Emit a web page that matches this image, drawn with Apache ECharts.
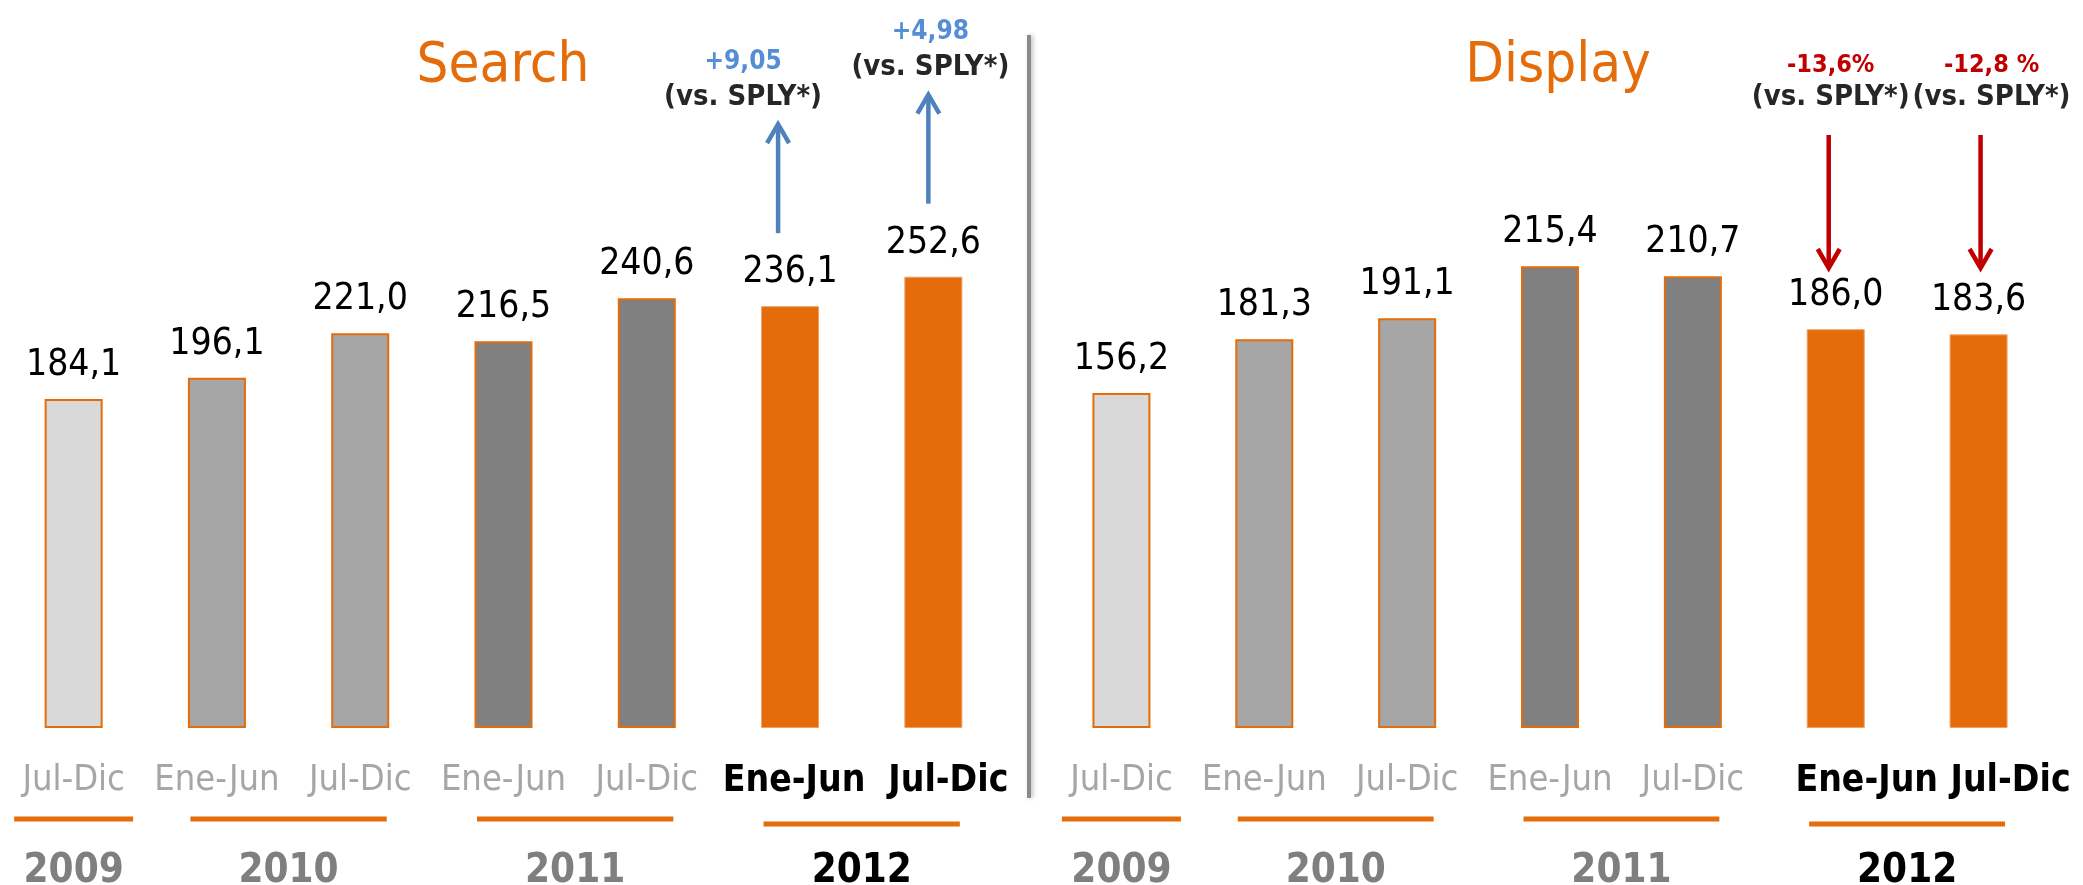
<!DOCTYPE html>
<html>
<head>
<meta charset="utf-8">
<script src="https://cdn.jsdelivr.net/npm/echarts@6/dist/echarts.min.js"></script>
<style>
  html, body { margin: 0; padding: 0; background: #fff; }
  #chart { width: 2083px; height: 885px; }
</style>
</head>
<body>
<div id="chart"></div>
<script>
// datos
var periods = ['Jul-Dic', 'Ene-Jun', 'Jul-Dic', 'Ene-Jun', 'Jul-Dic', 'Ene-Jun', 'Jul-Dic'];
var searchValues = [184.1, 196.1, 221.0, 216.5, 240.6, 236.1, 252.6];
var displayValues = [156.2, 181.3, 191.1, 215.4, 210.7, 186.0, 183.6];
var years = ['2009', '2010', '2011', '2012'];
var yearFirst = [0, 1, 3, 5];
var yearLast = [0, 2, 4, 6];
var searchDeltas = ['+9,05', '+4,98'];
var displayDeltas = ['-13,6%', '-12,8 %'];
var deltaNote = '(vs. SPLY*)';

var FONT = '"DejaVu Sans Condensed", "Liberation Sans Narrow", sans-serif';
var ORANGE = '#E46C0A';
var barColors = ['#D9D9D9', '#A6A6A6', '#A6A6A6', '#808080', '#808080', ORANGE, ORANGE];

function barData(values) {
    return values.map(function (v, i) {
        return {
            value: v,
            itemStyle: {
                color: barColors[i],
                borderColor: i < 5 ? ORANGE : '#F0A060',
                borderWidth: i < 5 ? 2 : 1
            }
        };
    });
}

// padLeft: desplaza las etiquetas en negrita (2012) un poco a la derecha
function xAxisFor(idx, padLeft) {
    var bold = { color: '#000', fontSize: 37, fontWeight: 'bold', fontFamily: FONT };
    return {
        type: 'category',
        gridIndex: idx,
        data: periods,
        axisLine: { show: false },
        axisTick: { show: false },
        axisLabel: {
            interval: 0,
            margin: 35,
            formatter: function (v, i) {
                if (i === 5) return '{b5|' + v + '}';
                if (i === 6) return '{b6|' + v + '}';
                return '{g|' + v + '}';
            },
            rich: {
                g: { color: '#A6A6A6', fontSize: 36, fontFamily: FONT },
                b5: Object.assign({ padding: [0, 0, 0, padLeft[0]] }, bold),
                b6: Object.assign({ padding: [0, 0, 0, padLeft[1]] }, bold)
            }
        }
    };
}

function yAxisFor(idx, max) {
    return { type: 'value', gridIndex: idx, min: 0, max: max, show: false, splitLine: { show: false } };
}

function barSeries(idx, values) {
    return {
        type: 'bar',
        xAxisIndex: idx,
        yAxisIndex: idx,
        barWidth: 58,
        data: barData(values),
        label: {
            show: true,
            position: 'top',
            distance: 15,
            color: '#000',
            fontSize: 37,
            fontFamily: FONT,
            formatter: function (p) { return p.value.toFixed(1).replace('.', ','); }
        }
    };
}

// lineas naranjas y años bajo las etiquetas
function yearSeries(idx) {
    return {
        type: 'custom',
        xAxisIndex: idx,
        yAxisIndex: idx,
        silent: true,
        data: years.map(function (y, i) { return [yearFirst[i], yearLast[i], i]; }),
        renderItem: function (params, api) {
            var a = api.coord([api.value(0), 0]);
            var b = api.coord([api.value(1), 0]);
            var i = api.value(2);
            var span = b[0] - a[0];
            var w = span > 0 ? span + 53 : 119;
            var cx = (a[0] + b[0]) / 2;
            var last = i === years.length - 1;
            var ly = last ? 824 : 819;
            return {
                type: 'group',
                children: [{
                    type: 'rect',
                    shape: { x: cx - w / 2, y: ly - 2.5, width: w, height: 5 },
                    style: { fill: ORANGE }
                }, {
                    type: 'text',
                    style: {
                        text: years[i],
                        x: cx,
                        y: 872,
                        align: 'center',
                        verticalAlign: 'middle',
                        fill: last ? '#000' : '#7F7F7F',
                        fontSize: 40,
                        fontWeight: 'bold',
                        fontFamily: FONT
                    }
                }]
            };
        }
    };
}

var myChart = echarts.init(document.getElementById('chart'));
var option = {
    animation: false,
    title: [
        { text: 'Search', left: 503, top: 38, textAlign: 'center', padding: 0,
          textStyle: { color: ORANGE, fontSize: 56, fontWeight: 'normal', fontFamily: FONT } },
        { text: 'Display', left: 1558, top: 38, textAlign: 'center', padding: 0,
          textStyle: { color: ORANGE, fontSize: 56, fontWeight: 'normal', fontFamily: FONT } }
    ],
    grid: [
        { left: 2, width: 1003, top: 192, height: 536 },
        { left: 1050, width: 1000, top: 192, height: 536 }
    ],
    xAxis: [xAxisFor(0, [8, 30]), xAxisFor(1, [62, 64])],
    yAxis: [yAxisFor(0, 300), yAxisFor(1, 250)],
    series: [barSeries(0, searchValues), barSeries(1, displayValues), yearSeries(0), yearSeries(1)]
};
myChart.setOption(option);

// anotaciones (flechas y variaciones)
function arrow(x, y1, y2, color) {
    var dir = y2 < y1 ? 1 : -1;
    return [{
        type: 'line',
        shape: { x1: x, y1: y1, x2: x, y2: y2 + dir * 2 },
        style: { stroke: color, lineWidth: 4.5 }
    }, {
        type: 'polyline',
        shape: { points: [[x - 11, y2 + dir * 19], [x, y2], [x + 11, y2 + dir * 19]] },
        style: { stroke: color, lineWidth: 4.5, fill: null }
    }];
}
function note(x, y, text, color, size) {
    return {
        type: 'text',
        style: {
            text: text, x: x, y: y, align: 'center', verticalAlign: 'middle',
            fill: color, fontSize: size, fontWeight: 'bold', fontFamily: FONT
        }
    };
}

var els = [];
// separador
els.push({
    type: 'line',
    shape: { x1: 1029, y1: 35, x2: 1029, y2: 798 },
    style: { stroke: '#8A8A8A', lineWidth: 4, shadowColor: 'rgba(0,0,0,0.25)', shadowBlur: 4, shadowOffsetX: 2 }
});

var sTextDx = [-47, -3], sArrowDx = [-12, -5];
searchDeltas.forEach(function (d, k) {
    var p = myChart.convertToPixel({ seriesIndex: 0 }, [5 + k, searchValues[5 + k]]);
    var top = p[1];
    els = els.concat(arrow(p[0] + sArrowDx[k], top - 73, top - 182, '#4F81BD'));
    els.push(note(p[0] + sTextDx[k], top - 244, d, '#558ED5', 26));
    els.push(note(p[0] + sTextDx[k], top - 209, deltaNote, '#262626', 29));
});

var dTextDx = [-5, 13], dArrowDx = [-7, 2];
displayDeltas.forEach(function (d, k) {
    var p = myChart.convertToPixel({ seriesIndex: 1 }, [5 + k, displayValues[5 + k]]);
    els = els.concat(arrow(p[0] + dArrowDx[k], 135, 268, '#C00000'));
    els.push(note(p[0] + dTextDx[k], 65, d, '#C00000', 25));
    els.push(note(p[0] + dTextDx[k], 97, deltaNote, '#262626', 29));
});

myChart.setOption({ graphic: els });
</script>
</body>
</html>
